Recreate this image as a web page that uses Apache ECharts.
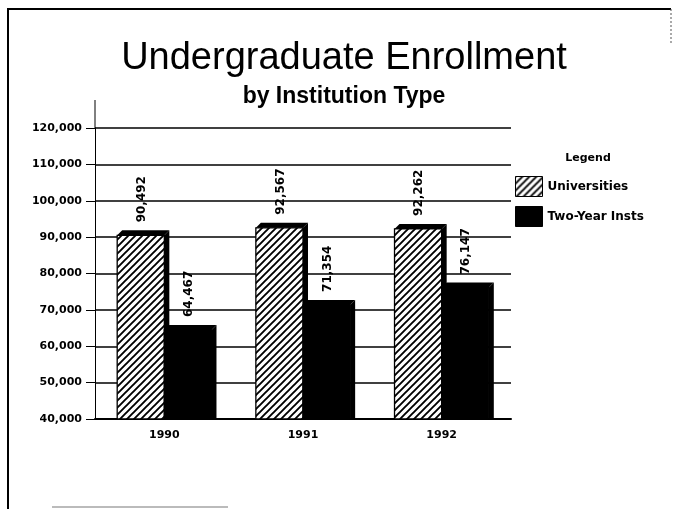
<!DOCTYPE html>
<html>
<head>
<meta charset="utf-8">
<script src="https://cdn.jsdelivr.net/npm/echarts@6/dist/echarts.min.js"></script>
<style>
  html, body { margin: 0; padding: 0; background: #fff; }
  #main { width: 673px; height: 509px; }
</style>
</head>
<body>
<div id="main"></div>
<script>
// data
var years = ['1990', '1991', '1992'];
var universities = [90492, 92567, 92262];
var twoYearInsts = [64467, 71354, 76147];
var seriesNames = ['Universities', 'Two-Year Insts'];
var yMin = 40000, yMax = 120000, yStep = 10000;

var smallFont = '"DejaVu Sans"';

// diagonal hatch for the university bars
function hatch () {
  var s = 7;
  var c = document.createElement('canvas');
  c.width = s; c.height = s;
  var g = c.getContext('2d');
  g.fillStyle = '#fff';
  g.fillRect(0, 0, s, s);
  g.strokeStyle = '#000';
  g.lineWidth = 1.9;
  g.beginPath();
  g.moveTo(-1, s + 1); g.lineTo(s + 1, -1);
  g.moveTo(-1, 1); g.lineTo(1, -1);
  g.moveTo(s - 1, s + 1); g.lineTo(s + 1, s - 1);
  g.stroke();
  return c;
}
var hatchFill = { image: hatch(), repeat: 'repeat' };

function fmt (v) {
  return Number(v).toLocaleString('en-US');
}

function pairs (values) {
  return values.map(function (v, i) { return [i, v]; });
}

// old style 3d bar: front face + black top and side, value label standing on top
function barRenderer (side, fill) {
  return function (params, api) {
    var top = api.coord([api.value(0), api.value(1)]);
    var base = api.coord([api.value(0), yMin]);
    var w = api.size([1, 0])[0] * 0.34;
    var d = 5;
    var x = side === 0 ? top[0] - w : top[0];
    var y = top[1];
    var b = base[1];
    return {
      type: 'group',
      children: [
        { type: 'rect', shape: { x: x, y: y, width: w, height: b - y },
          style: { fill: fill, stroke: '#000', lineWidth: 1.3 } },
        { type: 'polygon', shape: { points: [[x, y], [x + d, y - d], [x + w + d, y - d], [x + w, y]] },
          style: { fill: '#000' } },
        { type: 'polygon', shape: { points: [[x + w, y], [x + w + d, y - d], [x + w + d, b], [x + w, b]] },
          style: { fill: '#000' } },
        { type: 'text', x: x + w / 2 + 1, y: y - d - 8, rotation: Math.PI / 2,
          style: { text: fmt(api.value(1)), fill: '#000', font: 'bold 12px "DejaVu Sans"',
            align: 'left', verticalAlign: 'middle' } }
      ]
    };
  };
}

var chart = echarts.init(document.getElementById('main'));
chart.setOption({
  animation: false,
  backgroundColor: '#fff',
  grid: { left: 95, top: 128, width: 416, height: 291 },
  legend: {
    data: seriesNames,
    orient: 'vertical',
    left: 515,
    top: 176,
    padding: 0,
    itemWidth: 27,
    itemHeight: 20,
    itemGap: 9,
    icon: 'rect',
    itemStyle: { borderColor: '#000', borderWidth: 1 },
    textStyle: { fontFamily: smallFont, fontWeight: 'bold', fontSize: 12, color: '#000' }
  },
  xAxis: {
    type: 'category',
    data: years,
    axisLine: { lineStyle: { color: '#000', width: 2 } },
    axisTick: { alignWithLabel: true, length: 4, lineStyle: { color: '#000' } },
    axisLabel: { margin: 11, color: '#000', fontFamily: smallFont, fontWeight: 'bold', fontSize: 11 }
  },
  yAxis: {
    type: 'value',
    min: yMin,
    max: yMax,
    interval: yStep,
    axisLine: { show: true, lineStyle: { color: '#000', width: 1 } },
    axisTick: { show: true, length: 9, lineStyle: { color: '#000' } },
    axisLabel: {
      margin: 13, color: '#000', fontFamily: smallFont, fontWeight: 'bold', fontSize: 11,
      formatter: fmt
    },
    splitLine: { lineStyle: { color: '#000', width: 1.5 } }
  },
  series: [
    {
      name: seriesNames[0],
      type: 'custom',
      data: pairs(universities),
      encode: { x: 0, y: 1 },
      itemStyle: { color: hatchFill },
      renderItem: barRenderer(0, hatchFill)
    },
    {
      name: seriesNames[1],
      type: 'custom',
      data: pairs(twoYearInsts),
      encode: { x: 0, y: 1 },
      itemStyle: { color: '#000' },
      renderItem: barRenderer(1, '#000')
    }
  ],
  graphic: [
    { type: 'text', x: 344, y: 59, style: { text: 'Undergraduate Enrollment', fill: '#000', font: '38px "Liberation Sans"', align: 'center', verticalAlign: 'middle' } },
    { type: 'text', x: 344, y: 97, style: { text: 'by Institution Type', fill: '#000', font: 'bold 23px "Liberation Sans"', align: 'center', verticalAlign: 'middle' } },
    { type: 'text', x: 588, y: 158, style: { text: 'Legend', fill: '#000', font: 'bold 11px "DejaVu Sans"', align: 'center', verticalAlign: 'middle' } },
    // y axis runs on above the top gridline
    { type: 'line', shape: { x1: 95, y1: 100, x2: 95, y2: 128 }, style: { stroke: '#000', lineWidth: 1 } },
    // page frame from the scan
    { type: 'line', shape: { x1: 7, y1: 9, x2: 671, y2: 9 }, style: { stroke: '#000', lineWidth: 2 } },
    { type: 'line', shape: { x1: 8, y1: 9, x2: 8, y2: 509 }, style: { stroke: '#000', lineWidth: 2 } },
    { type: 'line', shape: { x1: 671, y1: 9, x2: 671, y2: 45 }, style: { stroke: '#555', lineWidth: 1, lineDash: [2, 2] } },
    { type: 'line', shape: { x1: 52, y1: 507, x2: 228, y2: 507 }, style: { stroke: '#bbb', lineWidth: 2 } }
  ]
});
</script>
</body>
</html>
